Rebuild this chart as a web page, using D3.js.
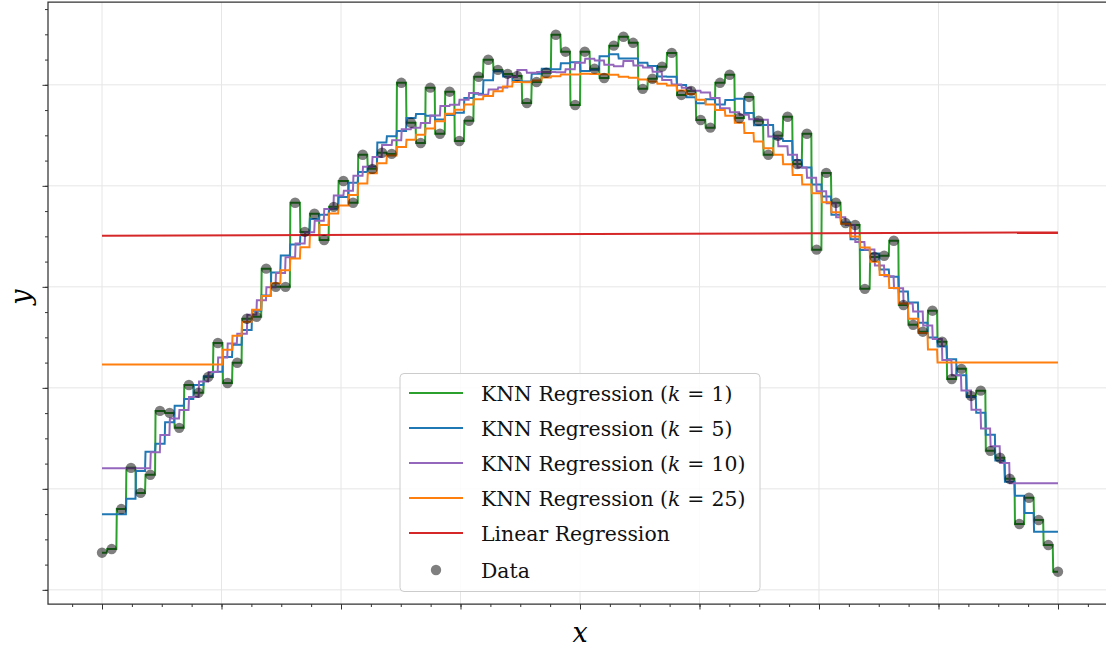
<!DOCTYPE html>
<html>
<head>
<meta charset="utf-8">
<script src="https://cdn.jsdelivr.net/npm/d3@7"></script>
<style>
  html, body { margin: 0; padding: 0; background: #ffffff; }
  svg { display: block; }
</style>
</head>
<body>
<svg id="chart" width="1106" height="650"></svg>
<script>
// Noisy samples of a half sine wave, 100 evenly spaced points on [0, 8]
const xMin = 0, xMax = 8, nPoints = 100;
const yData = [
  -0.158, -0.149, -0.050, 0.052, -0.010, 0.035, 0.193, 0.188, 0.151, 0.257,
  0.238, 0.277, 0.361, 0.262, 0.312, 0.421, 0.426, 0.545, 0.500, 0.500,
  0.708, 0.636, 0.681, 0.616, 0.698, 0.762, 0.708, 0.827, 0.792, 0.832,
  0.829, 1.005, 0.906, 0.856, 0.993, 0.879, 0.983, 0.861, 0.911, 1.020,
  1.062, 1.037, 1.027, 1.022, 0.955, 1.007, 1.030, 1.124, 1.082, 0.950,
  1.082, 1.040, 1.017, 1.097, 1.119, 1.104, 0.990, 1.015, 1.045, 1.079,
  0.975, 0.985, 0.913, 0.894, 1.005, 1.025, 0.918, 0.970, 0.911, 0.827,
  0.874, 0.921, 0.804, 0.879, 0.592, 0.782, 0.708, 0.658, 0.653, 0.495,
  0.574, 0.577, 0.614, 0.455, 0.406, 0.389, 0.441, 0.364, 0.272, 0.297,
  0.230, 0.243, 0.094, 0.077, 0.025, -0.087, -0.022, -0.077, -0.139, -0.205
];
const xData = d3.range(nPoints).map(i => xMin + (xMax - xMin) * i / (nPoints - 1));

// Models drawn over the data
const kValues = [1, 5, 10, 25];
const kColors = ["#2ca02c", "#1f77b4", "#9467bd", "#ff7f0e"];
const linearColor = "#d62728";
const legendLabels = ["KNN Regression", "KNN Regression", "KNN Regression", "KNN Regression", "Linear Regression", "Data"];

// Axis ticks
const xMajorTicks = d3.range(0, 9, 1);
const xMinorTicks = d3.range(-0.25, 8.5, 0.25);
const yMajorTicks = [-0.25, 0, 0.25, 0.5, 0.75, 1.0];
const yMinorTicks = d3.range(-0.25, 1.2, 0.0625);

const svg = d3.select("#chart");
const pLeft = 48, pRight = 1112, pTop = 2, pBottom = 604;

const x = d3.scaleLinear().domain([-0.452, 8.452]).range([pLeft, pRight]);
const y = d3.scaleLinear().domain([-0.285, 1.205]).range([pBottom, pTop]);

// KNN regression with uniform weights
function knnPredict(q, k) {
  const nearest = xData.map((xv, i) => ({ d: Math.abs(xv - q), i }))
    .sort((a, b) => a.d - b.d || a.i - b.i)
    .slice(0, k);
  return d3.mean(nearest, n => yData[n.i]);
}

// Ordinary least squares fit
const mx = d3.mean(xData), my = d3.mean(yData);
let sxy = 0, sxx = 0;
xData.forEach((xv, i) => { sxy += (xv - mx) * (yData[i] - my); sxx += (xv - mx) * (xv - mx); });
const slope = sxy / sxx, intercept = my - slope * mx;

const grid = d3.range(0, 2001).map(j => xMin + (xMax - xMin) * j / 2000);

// Grid lines
const gGrid = svg.append("g");
gGrid.selectAll("line.vx").data(xMajorTicks).join("line")
  .attr("x1", d => x(d)).attr("x2", d => x(d)).attr("y1", pTop).attr("y2", pBottom)
  .attr("stroke", "#e6e6e6").attr("stroke-width", 1);
gGrid.selectAll("line.hy").data(yMajorTicks).join("line")
  .attr("x1", pLeft).attr("x2", pRight).attr("y1", d => y(d)).attr("y2", d => y(d))
  .attr("stroke", "#e6e6e6").attr("stroke-width", 1);

// Axes with major and minor ticks (no labels)
function addAxis(axisGen, transform) {
  const g = svg.append("g").attr("transform", transform).call(axisGen);
  g.select(".domain").remove();
  g.selectAll(".tick line").attr("stroke", "#333").attr("stroke-width", 1);
  g.selectAll(".tick text").remove();
}
addAxis(d3.axisBottom(x).tickValues(xMinorTicks).tickSize(3).tickFormat(""), `translate(0,${pBottom})`);
addAxis(d3.axisBottom(x).tickValues(xMajorTicks).tickSize(5.5).tickFormat(""), `translate(0,${pBottom})`);
addAxis(d3.axisLeft(y).tickValues(yMinorTicks).tickSize(3).tickFormat(""), `translate(${pLeft},0)`);
addAxis(d3.axisLeft(y).tickValues(yMajorTicks).tickSize(5.5).tickFormat(""), `translate(${pLeft},0)`);

const plot = svg.append("g");
const line = d3.line().x(d => x(d[0])).y(d => y(d[1]));

kValues.forEach((k, idx) => {
  const pts = grid.map(q => [q, knnPredict(q, k)]);
  plot.append("path").datum(pts)
    .attr("d", line)
    .attr("fill", "none")
    .attr("stroke", kColors[idx])
    .attr("stroke-width", 2)
    .attr("stroke-linejoin", "miter");
});

plot.append("path")
  .datum([[xMin, intercept + slope * xMin], [xMax, intercept + slope * xMax]])
  .attr("d", line).attr("fill", "none")
  .attr("stroke", linearColor).attr("stroke-width", 2);

plot.selectAll("circle").data(xData).join("circle")
  .attr("cx", d => x(d)).attr("cy", (d, i) => y(yData[i]))
  .attr("r", 5.2).attr("fill", "#000").attr("fill-opacity", 0.5);

// Frame
svg.append("path")
  .attr("d", `M${pRight},${pTop}H${pLeft}V${pBottom}H${pRight}`)
  .attr("fill", "none").attr("stroke", "#333").attr("stroke-width", 1.25);

// Axis labels
svg.append("text").attr("x", 580).attr("y", 642)
  .attr("text-anchor", "middle")
  .style("font-family", "'DejaVu Serif', serif").style("font-style", "italic")
  .style("font-size", "27px").text("x");
svg.append("text").attr("transform", "translate(30,297) rotate(-90)")
  .attr("text-anchor", "middle")
  .style("font-family", "'DejaVu Serif', serif").style("font-style", "italic")
  .style("font-size", "27px").text("y");

// Legend
const lg = svg.append("g");
lg.append("rect").attr("x", 400).attr("y", 373.5).attr("width", 360).attr("height", 218)
  .attr("rx", 4).attr("fill", "#fff").attr("fill-opacity", 0.85)
  .attr("stroke", "#cccccc").attr("stroke-width", 1);
const rowY = [393, 428, 463, 498, 533, 570];
const legendColors = kColors.concat([linearColor]);
legendColors.forEach((c, i) => {
  lg.append("line").attr("x1", 409).attr("x2", 463)
    .attr("y1", rowY[i]).attr("y2", rowY[i])
    .attr("stroke", c).attr("stroke-width", 2);
});
lg.append("circle").attr("cx", 436).attr("cy", rowY[5]).attr("r", 5.2)
  .attr("fill", "#000").attr("fill-opacity", 0.5);
legendLabels.forEach((lab, i) => {
  const t = lg.append("text").attr("x", 481).attr("y", rowY[i] + 7.5)
    .style("font-family", "'DejaVu Serif', serif").style("font-size", "20.4px")
    .attr("fill", "#111");
  t.append("tspan").text(lab);
  if (i < kValues.length) {
    t.append("tspan").text(" (");
    t.append("tspan").style("font-style", "italic").text("k");
    t.append("tspan").attr("dx", 7).text("=");
    t.append("tspan").attr("dx", 7).text(`${kValues[i]})`);
  }
});
</script>
</body>
</html>
